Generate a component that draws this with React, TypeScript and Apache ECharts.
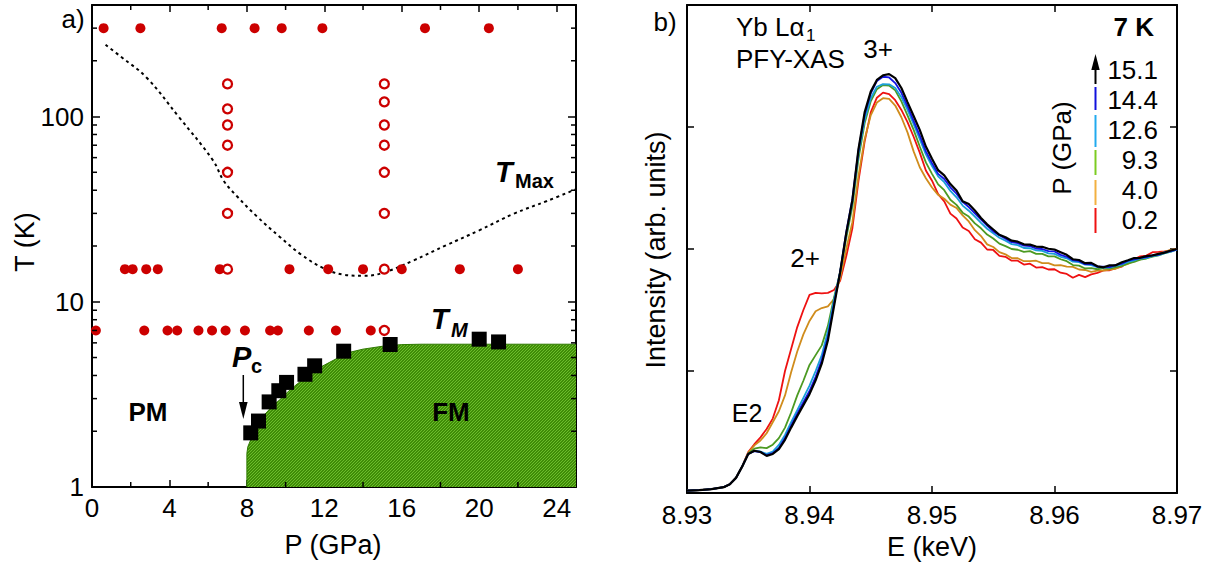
import React, { useEffect, useRef } from "react";
import * as echarts from "echarts";

// ---------------- Panel a) : P-T phase diagram ----------------
const pTickLabels = [0, 4, 8, 12, 16, 20, 24];
const tTickLabels = [1, 10, 100];
const pMinorTicks = [2, 6, 10, 14, 18, 22];
const tMinorTicks = [2, 3, 4, 5, 6, 7, 8, 9, 20, 30, 40, 50, 60, 70, 80, 90, 200, 300];

const T_ROW_HIGH = 300;
const T_ROW_MID = 15;
const T_ROW_LOW = 7;
const filledHigh_P = [0.6, 2.5, 6.7, 8.4, 9.8, 11.9, 17.2, 20.5];
const filledMid_P = [1.7, 2.1, 2.8, 3.4, 6.6, 10.2, 12.2, 14.0, 16.0, 19.0, 22.0];
const filledLow_P = [0.2, 2.7, 3.9, 4.4, 5.5, 6.2, 6.9, 7.9, 9.2, 9.6, 11.2, 12.6, 14.4];

const P_OPEN_A = 7.0;
const P_OPEN_B = 15.1;
const openA_T = [150, 110, 90, 70, 50, 30, 15];
const openB_T = [150, 120, 90, 70, 50, 30, 15, 7];

const tmP = [8.2, 8.6, 9.15, 9.65, 10.05, 11.0, 11.5, 13.0, 15.4, 20.0, 21.0];
const tmT = [1.96, 2.27, 2.88, 3.31, 3.67, 4.06, 4.51, 5.41, 5.88, 6.28, 6.07];

const fmP = [8, 8, 8.05, 8.2, 8.5, 8.9, 9.3, 9.7, 10.1, 10.6, 11.1, 11.5, 12.0, 12.5, 13.2, 14.0, 15.0, 16.0, 17.0, 25];
const fmT = [1, 1.52, 1.65, 1.8, 2.1, 2.45, 2.72, 2.96, 3.25, 3.6, 3.95, 4.25, 4.55, 4.85, 5.3, 5.55, 5.75, 5.87, 5.9, 5.9];

const tmaxP = [0.7, 1.5, 2.8, 4.5, 6.25, 6.8, 7.5, 8.5, 9.7, 10.8, 11.9, 13.0, 14.0, 15.0, 16.6, 18.3, 20.0, 21.8, 23.5, 25];
const tmaxT = [244, 210, 163, 99, 58, 45, 37, 29, 22.4, 18, 15.3, 14.0, 13.8, 14.3, 16.7, 20.2, 24.3, 29.9, 35, 40.5];

// ---------------- Panel b) : Yb L-alpha1 PFY-XAS ----------------
const eTickLabels = [8.93, 8.94, 8.95, 8.96, 8.97];
const xasE = [
  8.930, 8.931, 8.932, 8.933, 8.9335, 8.934, 8.9345, 8.935, 8.9355, 8.936,
  8.9365, 8.937, 8.9375, 8.938, 8.9385, 8.939, 8.9395, 8.940, 8.9405, 8.941,
  8.9415, 8.942, 8.9425, 8.943, 8.9435, 8.944, 8.9445, 8.945, 8.9455, 8.946,
  8.9465, 8.947, 8.9475, 8.948, 8.9485, 8.949, 8.9495, 8.950, 8.9505, 8.951,
  8.9515, 8.952, 8.9525, 8.953, 8.9535, 8.954, 8.9545, 8.955, 8.9555, 8.956,
  8.9565, 8.957, 8.9575, 8.958, 8.9585, 8.959, 8.9595, 8.960, 8.9605, 8.961,
  8.9615, 8.962, 8.9625, 8.963, 8.9635, 8.964, 8.9645, 8.965, 8.9655, 8.966,
  8.9665, 8.967, 8.9675, 8.968, 8.9685, 8.969, 8.9695, 8.970,
];
const xas_0_2 = [
  0.010, 0.012, 0.016, 0.024, 0.036, 0.062, 0.108, 0.168, 0.200, 0.228,
  0.262, 0.305, 0.380, 0.500, 0.590, 0.680, 0.750, 0.812, 0.820, 0.818,
  0.820, 0.832, 0.870, 0.970, 1.085, 1.280, 1.440, 1.560, 1.620, 1.641,
  1.635, 1.610, 1.570, 1.520, 1.460, 1.395, 1.322, 1.280, 1.225, 1.195,
  1.145, 1.125, 1.088, 1.074, 1.040, 1.026, 0.998, 0.996, 0.972, 0.968,
  0.952, 0.952, 0.936, 0.940, 0.924, 0.926, 0.916, 0.917, 0.903, 0.898,
  0.882, 0.894, 0.885, 0.896, 0.902, 0.912, 0.913, 0.922, 0.928, 0.950,
  0.958, 0.970, 0.973, 0.987, 0.988, 0.990, 0.994, 1.000,
];
const xas_4_0 = [
  0.010, 0.012, 0.016, 0.024, 0.036, 0.062, 0.108, 0.165, 0.195, 0.215,
  0.245, 0.290, 0.335, 0.400, 0.495, 0.580, 0.650, 0.705, 0.745, 0.758,
  0.765, 0.795, 0.880, 1.000, 1.110, 1.300, 1.450, 1.548, 1.600, 1.618,
  1.615, 1.588, 1.540, 1.478, 1.400, 1.335, 1.290, 1.252, 1.222, 1.206,
  1.182, 1.168, 1.138, 1.113, 1.077, 1.053, 1.019, 1.008, 0.987, 0.978,
  0.963, 0.962, 0.950, 0.950, 0.952, 0.942, 0.942, 0.933, 0.934, 0.928,
  0.927, 0.916, 0.914, 0.906, 0.911, 0.911, 0.916, 0.919, 0.931, 0.939,
  0.951, 0.957, 0.966, 0.971, 0.981, 0.989, 0.996, 1.000,
];
const xas_9_3 = [
  0.010, 0.012, 0.016, 0.024, 0.036, 0.062, 0.108, 0.162, 0.182, 0.187,
  0.184, 0.198, 0.225, 0.268, 0.330, 0.400, 0.460, 0.525, 0.565, 0.605,
  0.685, 0.800, 0.905, 1.045, 1.175, 1.370, 1.515, 1.605, 1.655, 1.672,
  1.670, 1.650, 1.605, 1.548, 1.488, 1.420, 1.355, 1.308, 1.265, 1.241,
  1.202, 1.181, 1.149, 1.133, 1.105, 1.085, 1.059, 1.043, 1.022, 1.012,
  1.000, 0.997, 0.988, 0.991, 0.980, 0.980, 0.970, 0.970, 0.958, 0.950,
  0.934, 0.932, 0.920, 0.922, 0.917, 0.922, 0.920, 0.926, 0.931, 0.941,
  0.947, 0.956, 0.961, 0.969, 0.974, 0.983, 0.989, 0.998,
];
const xas_12_6 = [
  0.010, 0.012, 0.016, 0.024, 0.036, 0.062, 0.108, 0.160, 0.172, 0.170,
  0.160, 0.170, 0.197, 0.238, 0.290, 0.340, 0.390, 0.440, 0.500, 0.565,
  0.662, 0.790, 0.905, 1.060, 1.190, 1.390, 1.530, 1.618, 1.665, 1.676,
  1.675, 1.660, 1.622, 1.570, 1.512, 1.450, 1.388, 1.340, 1.298, 1.274,
  1.238, 1.212, 1.178, 1.157, 1.133, 1.107, 1.083, 1.064, 1.046, 1.034,
  1.020, 1.016, 1.004, 1.003, 0.994, 0.992, 0.982, 0.980, 0.968, 0.962,
  0.948, 0.946, 0.936, 0.934, 0.926, 0.924, 0.924, 0.931, 0.937, 0.947,
  0.953, 0.961, 0.964, 0.971, 0.975, 0.983, 0.989, 0.997,
];
const xas_14_4 = [
  0.010, 0.012, 0.016, 0.024, 0.036, 0.062, 0.108, 0.160, 0.172, 0.168,
  0.155, 0.163, 0.185, 0.225, 0.276, 0.325, 0.372, 0.418, 0.476, 0.545,
  0.638, 0.775, 0.905, 1.070, 1.205, 1.405, 1.550, 1.638, 1.688, 1.706,
  1.703, 1.680, 1.640, 1.585, 1.525, 1.465, 1.400, 1.352, 1.308, 1.287,
  1.253, 1.227, 1.193, 1.172, 1.146, 1.120, 1.096, 1.072, 1.056, 1.042,
  1.028, 1.024, 1.014, 1.012, 1.002, 1.000, 0.991, 0.990, 0.976, 0.968,
  0.954, 0.950, 0.938, 0.939, 0.928, 0.928, 0.926, 0.935, 0.940, 0.952,
  0.957, 0.964, 0.967, 0.974, 0.977, 0.987, 0.991, 0.998,
];
const xas_15_1 = [
  0.010, 0.012, 0.016, 0.024, 0.036, 0.062, 0.108, 0.160, 0.173, 0.168,
  0.152, 0.160, 0.180, 0.218, 0.268, 0.315, 0.360, 0.405, 0.462, 0.530,
  0.625, 0.765, 0.905, 1.065, 1.200, 1.410, 1.560, 1.645, 1.693, 1.712,
  1.717, 1.700, 1.660, 1.602, 1.545, 1.488, 1.420, 1.370, 1.323, 1.302,
  1.266, 1.240, 1.196, 1.184, 1.158, 1.127, 1.101, 1.080, 1.058, 1.048,
  1.034, 1.030, 1.019, 1.018, 1.010, 1.009, 1.001, 0.998, 0.987, 0.976,
  0.958, 0.955, 0.942, 0.943, 0.929, 0.925, 0.933, 0.933, 0.946, 0.954,
  0.963, 0.964, 0.971, 0.974, 0.980, 0.985, 0.994, 1.000,
];

const xasPressures = ["0.2", "4.0", "9.3", "12.6", "14.4", "15.1"];
const xasSeries = [xas_0_2, xas_4_0, xas_9_3, xas_12_6, xas_14_4, xas_15_1];
const xasColors = ["#ee1111", "#d08c1c", "#4c9a22", "#1a9fd8", "#1414e6", "#000000"];
const legendColors = ["#ee1111", "#f2b040", "#7ccc22", "#22aaee", "#1010dd", "#000000"];

const FONT = "'Liberation Sans', Arial, Helvetica, sans-serif";
const RED = "#cc0000";

function txt(text: string, x: number, y: number, o: any = {}) {
  return {
    type: "text",
    x,
    y,
    rotation: o.rotation || 0,
    silent: true,
    z: 100,
    style: {
      text,
      fontSize: o.size || 26,
      fontFamily: FONT,
      fontWeight: o.weight || "normal",
      fontStyle: o.fstyle || "normal",
      fill: o.color || "#000",
      textAlign: o.align || "center",
      textVerticalAlign: "middle",
      align: o.align || "center",
      verticalAlign: "middle",
    },
  };
}

function vline(x: number, y1: number, y2: number, color: string, w = 2) {
  return { type: "line", silent: true, z: 100, shape: { x1: x, y1, x2: x, y2 }, style: { stroke: color, lineWidth: w } };
}

function makeGreenPattern(): string {
  const n = 6;
  const c = document.createElement("canvas");
  c.width = n;
  c.height = n;
  const g = c.getContext("2d");
  if (!g) return "";
  g.fillStyle = "#3f8c07";
  g.fillRect(0, 0, n, n);
  g.fillStyle = "#6cbd2c";
  for (let i = 0; i < n; i++) {
    g.fillRect(i, n - 1 - i, 1, 1);
    g.fillRect((i + 3) % n, n - 1 - i, 1, 1);
  }
  return c.toDataURL();
}

export default function App() {
  const ref = useRef<HTMLDivElement>(null);

  useEffect(() => {
    if (!ref.current) return;
    const chart = echarts.init(ref.current, undefined, { renderer: "svg" });

    const axisLabelStyle = { color: "#000", fontFamily: FONT, fontSize: 26 };
    const frameLine = { show: true, onZero: false, lineStyle: { color: "#000", width: 2 } };

    const logFmt = (v: number) => {
      const r = Math.round(v);
      return tTickLabels.indexOf(r) >= 0 && Math.abs(v - r) < 1e-6 ? String(r) : "";
    };
    const pFmt = (v: number) => {
      const r = Math.round(v);
      return pTickLabels.indexOf(r) >= 0 && Math.abs(v - r) < 1e-6 ? String(r) : "";
    };
    const eFmt = (v: number) => {
      for (const t of eTickLabels) if (Math.abs(v - t) < 1e-6) return t.toFixed(2);
      return "";
    };

    const filledDots = [
      ...filledHigh_P.map((p) => [p, T_ROW_HIGH]),
      ...filledMid_P.map((p) => [p, T_ROW_MID]),
      ...filledLow_P.map((p) => [p, T_ROW_LOW]),
    ];
    const openDots = [...openA_T.map((t) => [P_OPEN_A, t]), ...openB_T.map((t) => [P_OPEN_B, t])];

    const pattern = makeGreenPattern();
    const fmFill: any = pattern ? { image: pattern, repeat: "repeat" } : "#4e9b14";

    const legendX = 1095.5;
    const legendY = [220, 190, 160, 130, 100, 70];

    const graphics: any[] = [
      txt("a)", 73, 19, { size: 26 }),
      txt("b)", 665, 22, { size: 26 }),
      txt("T (K)", 25, 242, { size: 27, rotation: Math.PI / 2 }),
      txt("P (GPa)", 333, 545, { size: 27 }),
      txt("Intensity (arb. units)", 656, 250, { size: 27, rotation: Math.PI / 2 }),
      txt("E (keV)", 932, 547, { size: 27 }),
      // T_Max
      txt("T", 495, 172, { size: 29, weight: "bold", fstyle: "italic", align: "left" }),
      txt("Max", 515, 181, { size: 20, weight: "bold", align: "left" }),
      // T_M
      txt("T", 431, 319, { size: 29, weight: "bold", fstyle: "italic", align: "left" }),
      txt("M", 451, 330, { size: 20, weight: "bold", fstyle: "italic", align: "left" }),
      // P_c with arrow
      txt("P", 232, 357, { size: 29, weight: "bold", fstyle: "italic", align: "left" }),
      txt("c", 251, 366, { size: 20, weight: "bold", align: "left" }),
      vline(243.3, 375, 406, "#000", 1.5),
      { type: "polygon", silent: true, z: 100, shape: { points: [[239, 402], [247.6, 402], [243.3, 419]] }, style: { fill: "#000" } },
      txt("PM", 148, 412, { size: 26, weight: "bold" }),
      txt("FM", 451, 412, { size: 26, weight: "bold" }),
      // panel b annotations
      txt("Yb L\u03b1", 736, 27, { size: 26, align: "left" }),
      txt("1", 806, 35, { size: 17, align: "left" }),
      txt("PFY-XAS", 736, 59, { size: 26, align: "left" }),
      txt("3+", 878, 49, { size: 26 }),
      txt("2+", 805, 258, { size: 26 }),
      txt("E2", 747, 413, { size: 25 }),
      txt("7 K", 1154, 27, { size: 26, weight: "bold", align: "right" }),
      txt("P (GPa)", 1062, 148, { size: 26, rotation: Math.PI / 2 }),
      // legend arrow for 15.1
      vline(legendX, 84, 66, "#000", 2),
      { type: "polygon", silent: true, z: 100, shape: { points: [[1091.3, 70], [1099.7, 70], [1095.5, 54]] }, style: { fill: "#000" } },
    ];
    const segs = [
      [208, 233],
      [180, 205],
      [150, 175],
      [115, 147],
      [87, 110],
    ];
    segs.forEach((s, i) => graphics.push(vline(legendX, s[0], s[1], legendColors[i], 2)));
    xasPressures.forEach((p, i) => graphics.push(txt(p, 1158, legendY[i], { size: 26, align: "right" })));

    const xasLines = xasSeries.map((vals, i) => ({
      name: xasPressures[i] + " GPa",
      type: "line",
      xAxisIndex: 2,
      yAxisIndex: 2,
      data: xasE.map((e, k) => [e, vals[k]]),
      showSymbol: false,
      symbol: "none",
      smooth: false,
      lineStyle: { color: xasColors[i], width: i === 5 ? 2.2 : 1.8 },
      z: 3 + i,
    }));

    const option: any = {
      animation: false,
      backgroundColor: "#ffffff",
      grid: [
        { left: 92, top: 5, width: 484, height: 482 },
        { left: 687, top: 5, width: 490, height: 488 },
      ],
      xAxis: [
        {
          gridIndex: 0, type: "value", min: 0, max: 25, interval: 4, position: "bottom",
          axisLine: frameLine, axisTick: { show: true, inside: true, length: 7, lineStyle: { color: "#000", width: 1.5 } },
          axisLabel: { ...axisLabelStyle, margin: 8, formatter: pFmt, showMaxLabel: false }, splitLine: { show: false },
        },
        {
          gridIndex: 0, type: "value", min: 0, max: 25, interval: 4, position: "top",
          axisLine: frameLine, axisTick: { show: true, inside: true, length: 7, lineStyle: { color: "#000", width: 1.5 } },
          axisLabel: { show: false }, splitLine: { show: false },
        },
        {
          gridIndex: 1, type: "value", min: 8.93, max: 8.97, interval: 0.01, position: "bottom",
          axisLine: frameLine, axisTick: { show: true, inside: true, length: 7, lineStyle: { color: "#000", width: 1.5 } },
          axisLabel: { ...axisLabelStyle, margin: 9, formatter: eFmt }, splitLine: { show: false },
        },
        {
          gridIndex: 1, type: "value", min: 8.93, max: 8.97, interval: 0.01, position: "top",
          axisLine: frameLine, axisTick: { show: true, inside: true, length: 7, lineStyle: { color: "#000", width: 1.5 } },
          axisLabel: { show: false }, splitLine: { show: false },
        },
      ],
      yAxis: [
        {
          gridIndex: 0, type: "log", logBase: 10, min: 1, max: 400, position: "left",
          axisLine: frameLine, axisTick: { show: true, inside: true, length: 8, lineStyle: { color: "#000", width: 1.5 } },
          axisLabel: { ...axisLabelStyle, margin: 8, formatter: logFmt, showMaxLabel: false }, splitLine: { show: false },
        },
        {
          gridIndex: 0, type: "log", logBase: 10, min: 1, max: 400, position: "right",
          axisLine: frameLine, axisTick: { show: true, inside: true, length: 8, lineStyle: { color: "#000", width: 1.5 } },
          axisLabel: { show: false }, splitLine: { show: false },
        },
        {
          gridIndex: 1, type: "value", min: 0, max: 2, interval: 0.5, position: "left",
          axisLine: frameLine, axisTick: { show: true, inside: true, length: 7, lineStyle: { color: "#000", width: 1.5 } },
          axisLabel: { show: false }, splitLine: { show: false },
        },
        {
          gridIndex: 1, type: "value", min: 0, max: 2, interval: 0.5, position: "right",
          axisLine: frameLine, axisTick: { show: true, inside: true, length: 7, lineStyle: { color: "#000", width: 1.5 } },
          axisLabel: { show: false }, splitLine: { show: false },
        },
      ],
      series: [
        {
          name: "FM",
          type: "line",
          xAxisIndex: 0,
          yAxisIndex: 0,
          data: fmP.map((p, i) => [p, fmT[i]]),
          showSymbol: false,
          symbol: "none",
          lineStyle: { color: "#2f7a00", width: 1 },
          areaStyle: { color: fmFill, opacity: 1, origin: "start" },
          z: 1,
        },
        {
          name: "TMax",
          type: "line",
          xAxisIndex: 0,
          yAxisIndex: 0,
          data: tmaxP.map((p, i) => [p, tmaxT[i]]),
          smooth: 0.4,
          showSymbol: false,
          symbol: "none",
          lineStyle: { color: "#000", width: 2, type: [3, 3.5] },
          z: 2,
        },
        {
          name: "minorT",
          type: "custom",
          xAxisIndex: 0,
          yAxisIndex: 0,
          data: tMinorTicks.map((t) => [0, t]),
          silent: true,
          z: 6,
          renderItem: (params: any, api: any) => {
            const v = api.value(1);
            const l = api.coord([0, v]);
            const r = api.coord([25, v]);
            return {
              type: "group",
              children: [
                { type: "line", shape: { x1: l[0], y1: l[1], x2: l[0] + 5, y2: l[1] }, style: { stroke: "#000", lineWidth: 1.5 } },
                { type: "line", shape: { x1: r[0], y1: r[1], x2: r[0] - 5, y2: r[1] }, style: { stroke: "#000", lineWidth: 1.5 } },
              ],
            };
          },
        },
        {
          name: "minorP",
          type: "custom",
          xAxisIndex: 0,
          yAxisIndex: 0,
          data: pMinorTicks.map((p) => [p, 1]),
          silent: true,
          z: 6,
          renderItem: (params: any, api: any) => {
            const p = api.value(0);
            const b = api.coord([p, 1]);
            const t = api.coord([p, 400]);
            return {
              type: "group",
              children: [
                { type: "line", shape: { x1: b[0], y1: b[1], x2: b[0], y2: b[1] - 5 }, style: { stroke: "#000", lineWidth: 1.5 } },
                { type: "line", shape: { x1: t[0], y1: t[1], x2: t[0], y2: t[1] + 5 }, style: { stroke: "#000", lineWidth: 1.5 } },
              ],
            };
          },
        },
        {
          name: "filled",
          type: "scatter",
          xAxisIndex: 0,
          yAxisIndex: 0,
          data: filledDots,
          symbol: "circle",
          symbolSize: 10,
          itemStyle: { color: RED, opacity: 1 },
          z: 4,
        },
        {
          name: "open",
          type: "scatter",
          xAxisIndex: 0,
          yAxisIndex: 0,
          data: openDots,
          symbol: "circle",
          symbolSize: 9,
          itemStyle: { color: "#ffffff", borderColor: RED, borderWidth: 2.3, opacity: 1 },
          z: 5,
        },
        {
          name: "TM",
          type: "scatter",
          xAxisIndex: 0,
          yAxisIndex: 0,
          data: tmP.map((p, i) => [p, tmT[i]]),
          symbol: "rect",
          symbolSize: 15,
          itemStyle: { color: "#000", opacity: 1 },
          z: 5,
        },
        ...xasLines,
      ],
      graphic: graphics,
    };

    chart.setOption(option);
    return () => chart.dispose();
  }, []);

  return (
    <div
      ref={ref}
      style={{ position: "fixed", left: 0, top: 0, width: 1210, height: 567, background: "#fff" }}
    />
  );
}
